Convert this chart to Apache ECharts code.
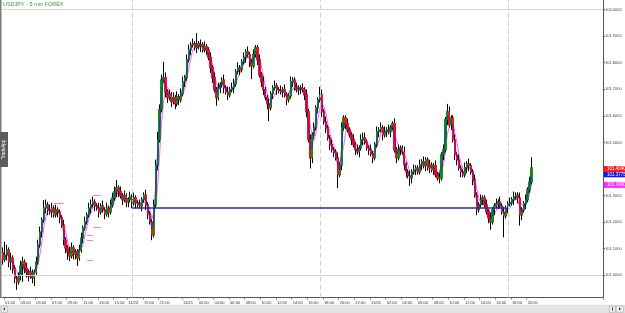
<!DOCTYPE html>
<html>
<head>
<meta charset="utf-8">
<script src="https://cdn.jsdelivr.net/npm/echarts@6.0.0/dist/echarts.min.js"></script>
<style>
  html, body { margin: 0; padding: 0; background: #fff; }
  #chart { width: 625px; height: 313px; }
</style>
</head>
<body>
<div id="chart"></div>
<script>
// USDJPY 15-min candles
const firstOpen = 101.085;

// Friday 11/22, from 00:45
const closesFri = [
  101.060, 101.076, 101.095, 101.050, 101.065, 101.027, 100.990, 100.975, 101.001, 101.035,
  101.050, 101.027, 101.012, 100.997, 101.012, 100.990, 101.012, 101.050, 101.114, 101.163,
  101.208, 101.253, 101.265, 101.246, 101.238, 101.253, 101.227, 101.246, 101.238, 101.216,
  101.189, 101.133, 101.103, 101.088, 101.073, 101.103, 101.080, 101.088, 101.065, 101.095,
  101.140, 101.178, 101.201, 101.227, 101.253, 101.265, 101.276, 101.261, 101.253, 101.238,
  101.261, 101.246, 101.231, 101.253, 101.238, 101.265, 101.291, 101.314, 101.329, 101.314,
  101.299, 101.284, 101.299, 101.276
];
// wick lengths beyond the body, in pips
const wickUpFri = [
  2, 5, 2, 1, 2, 1, 1, 1, 1, 2,
  2, 1, 2, 1, 2, 1, 1, 2, 2, 2,
  1, 3, 2, 1, 2, 2, 1, 2, 1, 1,
  1, 2, 1, 1, 2, 2, 1, 1, 1, 2,
  2, 1, 2, 1, 2, 2, 2, 1, 1, 2,
  1, 2, 1, 2, 1, 2, 2, 2, 3, 1,
  2, 1, 2, 1
];
const wickDnFri = [
  2, 1, 2, 2, 3, 2, 2, 3, 1, 2,
  6, 2, 2, 2, 1, 2, 3, 1, 1, 1,
  2, 1, 2, 2, 1, 2, 1, 1, 2, 2,
  1, 2, 2, 3, 2, 1, 2, 2, 3, 1,
  1, 2, 1, 1, 1, 2, 1, 2, 1, 2,
  1, 1, 2, 1, 2, 1, 1, 1, 2, 2,
  1, 2, 1, 2
];

// Sunday 11/24 17:00 to Tuesday 11/26 20:45
const closesWeek = [
  101.284, 101.295, 101.272, 101.291, 101.272, 101.265, 101.261, 101.284, 101.302, 101.265,
  101.231, 101.201, 101.152, 101.265, 101.415, 101.510, 101.623, 101.735, 101.743, 101.690,
  101.668, 101.679, 101.653, 101.668, 101.645, 101.672, 101.660, 101.683, 101.728, 101.743,
  101.811, 101.848, 101.867, 101.871, 101.856, 101.871, 101.860, 101.867, 101.848, 101.860,
  101.848, 101.819, 101.781, 101.743, 101.698, 101.668, 101.705, 101.717, 101.735, 101.705,
  101.690, 101.679, 101.698, 101.705, 101.720, 101.766, 101.781, 101.773, 101.803, 101.819,
  101.841, 101.830, 101.803, 101.788, 101.830, 101.856, 101.811, 101.754, 101.728, 101.698,
  101.668, 101.645, 101.630, 101.683, 101.705, 101.713, 101.698, 101.694, 101.690, 101.698,
  101.679, 101.660, 101.675, 101.728, 101.735, 101.705, 101.698, 101.705, 101.702, 101.698,
  101.679, 101.615, 101.510, 101.442, 101.528, 101.555, 101.630, 101.660, 101.679, 101.615,
  101.577, 101.555, 101.517, 101.491, 101.472, 101.464, 101.442, 101.378, 101.415, 101.555,
  101.592, 101.570, 101.547, 101.528, 101.510, 101.491, 101.472, 101.464, 101.479, 101.510,
  101.517, 101.502, 101.479, 101.472, 101.457, 101.442, 101.491, 101.540, 101.547, 101.555,
  101.528, 101.540, 101.547, 101.540, 101.555, 101.570, 101.472, 101.442, 101.472, 101.479,
  101.464, 101.415, 101.389, 101.374, 101.366, 101.389, 101.397, 101.404, 101.389, 101.415,
  101.427, 101.412, 101.434, 101.404, 101.415, 101.397, 101.412, 101.378, 101.366, 101.366,
  101.453, 101.472, 101.585, 101.615, 101.566, 101.592, 101.510, 101.453, 101.434, 101.404,
  101.389, 101.378, 101.404, 101.419, 101.412, 101.389, 101.359, 101.302, 101.246, 101.265,
  101.284, 101.291, 101.265, 101.238, 101.216, 101.201, 101.246, 101.261, 101.269, 101.276,
  101.261, 101.238, 101.223, 101.253, 101.269, 101.272, 101.284, 101.295, 101.302, 101.291,
  101.227, 101.246, 101.269, 101.284, 101.321, 101.351, 101.404
];
const wickUpWeek = [
  1, 2, 1, 2, 1, 1, 2, 1, 1, 2,
  1, 1, 1, 2, 2, 3, 2, 2, 6, 2,
  1, 2, 1, 2, 1, 2, 1, 2, 2, 1,
  2, 2, 1, 2, 1, 4, 1, 2, 1, 2,
  1, 1, 2, 1, 2, 1, 2, 1, 1, 2,
  1, 2, 1, 2, 2, 1, 2, 1, 1, 2,
  1, 2, 1, 1, 2, 1, 1, 2, 1, 2,
  1, 1, 2, 1, 1, 2, 1, 1, 2, 1,
  2, 1, 1, 2, 1, 1, 2, 1, 1, 2,
  1, 2, 1, 2, 1, 2, 1, 1, 3, 2,
  1, 2, 1, 1, 2, 1, 1, 2, 1, 2,
  1, 1, 2, 1, 1, 2, 1, 2, 1, 2,
  2, 2, 1, 1, 2, 1, 1, 2, 1, 2,
  1, 2, 1, 2, 1, 1, 2, 1, 2, 1,
  1, 2, 1, 1, 2, 1, 2, 1, 1, 2,
  1, 2, 1, 1, 2, 1, 1, 2, 1, 2,
  1, 2, 1, 3, 2, 1, 1, 2, 1, 2,
  1, 1, 2, 1, 2, 1, 1, 2, 1, 1,
  2, 1, 1, 2, 1, 2, 1, 1, 2, 1,
  2, 1, 2, 1, 1, 2, 1, 2, 1, 1,
  2, 1, 1, 2, 1, 2, 4
];
const wickDnWeek = [
  2, 1, 2, 1, 2, 1, 1, 2, 1, 2,
  2, 1, 2, 1, 1, 2, 1, 1, 1, 2,
  2, 1, 2, 1, 2, 1, 2, 1, 1, 2,
  1, 1, 2, 1, 1, 2, 1, 2, 1, 1,
  2, 1, 2, 2, 1, 3, 1, 2, 1, 2,
  1, 2, 1, 1, 2, 1, 1, 2, 1, 1,
  2, 1, 2, 5, 1, 1, 2, 1, 2, 2,
  1, 2, 5, 1, 2, 1, 2, 1, 1, 2,
  1, 2, 1, 1, 2, 1, 1, 2, 2, 1,
  2, 2, 1, 4, 2, 1, 1, 2, 1, 2,
  1, 2, 1, 2, 1, 2, 1, 5, 1, 2,
  1, 2, 1, 1, 2, 1, 2, 1, 2, 1,
  2, 1, 1, 2, 1, 2, 1, 1, 2, 1,
  2, 1, 2, 1, 2, 1, 1, 2, 1, 2,
  1, 2, 2, 1, 3, 2, 1, 2, 1, 1,
  2, 1, 2, 1, 2, 1, 2, 1, 1, 2,
  1, 2, 1, 2, 1, 2, 1, 2, 2, 1,
  2, 1, 1, 2, 2, 1, 2, 1, 2, 1,
  1, 2, 1, 1, 2, 3, 1, 2, 1, 2,
  1, 1, 8, 1, 2, 1, 1, 2, 1, 2,
  4, 2, 1, 2, 1, 1, 1
];
const emptySlots = 36;

// axis
const yTicks = [101.0, 101.1, 101.2, 101.3, 101.4, 101.5, 101.6, 101.7, 101.8, 101.9, 102.0];
const roundLevels = [101.0, 102.0];
const dateTicks = ["11/24 17:00", "11/25 00:00", "11/26 00:00"];
const xTickTimes = [
  "11/22 01:00", "11/22 03:00", "11/22 05:00", "11/22 07:00", "11/22 09:00",
  "11/22 11:00", "11/22 13:00", "11/22 15:00",
  "11/24 17:00", "11/24 19:00", "11/24 21:00",
  "11/25 00:00", "11/25 02:00", "11/25 04:00", "11/25 06:00", "11/25 08:00", "11/25 10:00",
  "11/25 12:00", "11/25 14:00", "11/25 16:00", "11/25 18:00", "11/25 20:00", "11/25 22:00",
  "11/26 00:00", "11/26 02:00", "11/26 04:00", "11/26 06:00", "11/26 08:00", "11/26 10:00",
  "11/26 12:00", "11/26 14:00", "11/26 16:00", "11/26 18:00", "11/26 20:00"
];
const sessionLines = ["11/24 17:30", "11/25 17:30", "11/26 17:30"];

// horizontal level drawn across the week
const levelValue = 101.253;
const levelFrom = "11/24 17:30";
const levelTo = "11/26 17:15";

// small pink order dashes on friday
const orderLevels = [101.272, 101.302, 101.182, 101.152, 101.133, 101.058];
const orderFrom = ["11/22 07:15", "11/22 12:15", "11/22 12:15", "11/22 11:30", "11/22 11:30", "11/22 11:30"];
const orderTo = ["11/22 08:30", "11/22 13:15", "11/22 13:15", "11/22 12:15", "11/22 12:15", "11/22 12:15"];

const fastPeriod = 2;
const slowPeriod = 4;

(function () {
  const font = "Liberation Sans, Arial, sans-serif";

  function pad(n) {
    return String(n).padStart(2, "0");
  }
  function buildTimes(month, day, hour, minute, count) {
    const out = [];
    let d = day, h = hour, m = minute;
    for (let i = 0; i < count; i++) {
      out.push(month + "/" + d + " " + pad(h) + ":" + pad(m));
      m += 15;
      if (m === 60) { m = 0; h++; }
      if (h === 24) { h = 0; d++; }
    }
    return out;
  }
  const categories = buildTimes(11, 22, 0, 45, closesFri.length).concat(
    buildTimes(11, 24, 17, 0, closesWeek.length + emptySlots)
  );

  const closes = closesFri.concat(closesWeek);
  const wickUp = wickUpFri.concat(wickUpWeek);
  const wickDn = wickDnFri.concat(wickDnWeek);

  // wick series (black) + body series (coloured) on top
  const wickData = [];
  const bodyData = [];
  let prev = firstOpen;
  closes.forEach(function (c, i) {
    const o = prev;
    const top = Math.max(o, c);
    const bot = Math.min(o, c);
    wickData.push([o, c, +(bot - (wickDn[i] || 1) / 100).toFixed(3), +(top + (wickUp[i] || 1) / 100).toFixed(3)]);
    bodyData.push([o, c, bot, top]);
    prev = c;
  });

  function sma(period) {
    return closes.map(function (c, i) {
      if (i < period - 1) return "-";
      let s = 0;
      for (let k = i - period + 1; k <= i; k++) s += closes[k];
      return +(s / period).toFixed(4);
    });
  }
  const fast = sma(fastPeriod);
  const slow = sma(slowPeriod);

  const tickSet = new Set(xTickTimes);
  function showTick(index, value) {
    return tickSet.has(categories[index]);
  }

  function tag(value, bg) {
    return {
      symbol: "none",
      silent: true,
      lineStyle: { color: "rgba(0,0,0,0)", width: 0 },
      label: {
        show: true,
        position: "end",
        distance: 1,
        formatter: value.toFixed(4),
        fontSize: 4.5,
        fontFamily: font,
        color: "#fff",
        backgroundColor: bg,
        padding: [1, 3, 0, 3],
      },
      data: [{ yAxis: value }],
    };
  }

  const chart = echarts.init(document.getElementById("chart"));
  const option = {
    animation: false,
    backgroundColor: "#ffffff",
    title: {
      text: "USDJPY - 5 min FOREX",
      left: 3,
      top: 1,
      padding: 0,
      textStyle: { fontSize: 5.5, color: "#3c9a3c", fontWeight: "normal", fontFamily: font },
    },
    grid: { left: 2, right: 22, top: 0, bottom: 15.3 },
    xAxis: {
      type: "category",
      data: categories,
      boundaryGap: true,
      axisLine: { lineStyle: { color: "#555", width: 1 } },
      axisTick: { show: true, interval: showTick, length: 2, lineStyle: { color: "#888" } },
      axisLabel: {
        interval: showTick,
        fontSize: 4,
        fontFamily: font,
        color: "#333",
        align: "left",
        margin: 3,
        formatter: function (v) {
          return dateTicks.indexOf(v) >= 0 ? v.slice(0, 5) : v.slice(6);
        },
      },
      splitLine: { show: false },
    },
    yAxis: {
      type: "value",
      position: "right",
      min: 100.9157,
      max: 102.0357,
      axisLine: { show: true, lineStyle: { color: "#555", width: 1 } },
      axisTick: { show: true, length: 2, customValues: yTicks, lineStyle: { color: "#555" } },
      axisLabel: {
        customValues: yTicks,
        fontSize: 4,
        fontFamily: font,
        color: "#444",
        margin: 2,
        formatter: function (v) { return v.toFixed(4); },
      },
      splitLine: { show: false },
    },
    series: [
      {
        name: "slow",
        type: "line",
        data: slow,
        showSymbol: false,
        z: 1,
        lineStyle: { color: "#ff5cff", width: 1 },
        markLine: tag(slow[slow.length - 1], "#ff2cff"),
      },
      {
        name: "wicks",
        type: "candlestick",
        data: wickData,
        barWidth: "90%",
        z: 2,
        itemStyle: { color: "#000", color0: "#000", borderColor: "#000", borderColor0: "#000", borderWidth: 1 },
        markLine: {
          symbol: "none",
          silent: true,
          label: { show: false },
          animation: false,
          data: roundLevels.map(function (v) {
            return { yAxis: v, lineStyle: { color: "#d6d6d6", width: 1, type: "solid" } };
          }).concat(sessionLines.map(function (t) {
            return { xAxis: t, lineStyle: { color: "#cfcfcf", width: 1, type: [5, 3] } };
          })),
        },
      },
      {
        name: "bodies",
        type: "candlestick",
        data: bodyData,
        barWidth: "90%",
        z: 3,
        itemStyle: { color: "#138f13", color0: "#ff1010", borderColor: "#138f13", borderColor0: "#ff1010", borderWidth: 1 },
        markLine: {
          symbol: "none",
          silent: true,
          label: { show: false },
          data: orderLevels.map(function (v, i) {
            return [
              { coord: [orderFrom[i], v], lineStyle: { color: "#ff7aa8", width: 1, type: "solid" } },
              { coord: [orderTo[i], v] },
            ];
          }).concat([[
            { coord: [levelFrom, levelValue], lineStyle: { color: "#2030a8", width: 1.6, type: "solid" } },
            { coord: [levelTo, levelValue] },
          ]]),
        },
      },
      {
        name: "fast",
        type: "line",
        data: fast,
        showSymbol: false,
        z: 5,
        lineStyle: { color: "#1a1ad8", width: 0.7 },
        markLine: tag(fast[fast.length - 1], "#1414f0"),
      },
      {
        name: "last",
        type: "line",
        data: [],
        markLine: tag(closes[closes.length - 1], "#ff1818"),
      },
    ],
    graphic: [
      { type: "rect", left: 0, top: 0, shape: { width: 1.5, height: 298 }, style: { fill: "#7a7a7a" } },
      { type: "rect", left: 0, top: 132, shape: { width: 8, height: 35 }, style: { fill: "#5c5c5c" } },
      {
        type: "text",
        x: 4,
        y: 149.5,
        rotation: Math.PI / 2,
        style: { text: "TradeApp", fill: "#fff", fontSize: 4.5, fontFamily: font, align: "center", verticalAlign: "middle" },
      },
      { type: "rect", left: 0, top: 305, shape: { width: 625, height: 8 }, style: { fill: "#e4e4e4", stroke: "#cfcfcf", lineWidth: 0.5 } },
      { type: "rect", left: 1, top: 306, shape: { width: 6, height: 6 }, style: { fill: "#f2f2f2", stroke: "#999", lineWidth: 0.5 } },
      { type: "polygon", shape: { points: [[5, 307.5], [5, 310.5], [3, 309]] }, style: { fill: "#222" } },
      { type: "rect", left: 609, top: 306, shape: { width: 6, height: 6 }, style: { fill: "#f2f2f2", stroke: "#999", lineWidth: 0.5 } },
      { type: "rect", left: 616, top: 306, shape: { width: 7, height: 6 }, style: { fill: "#f2f2f2", stroke: "#999", lineWidth: 0.5 } },
      { type: "rect", left: 612, top: 307.5, shape: { width: 1, height: 3 }, style: { fill: "#333" } },
      { type: "polygon", shape: { points: [[619, 307.5], [619, 310.5], [621, 309]] }, style: { fill: "#222" } },
    ],
  };
  chart.setOption(option);
  window.addEventListener("resize", function () {
    chart.resize();
  });
})();
</script>
</body>
</html>
